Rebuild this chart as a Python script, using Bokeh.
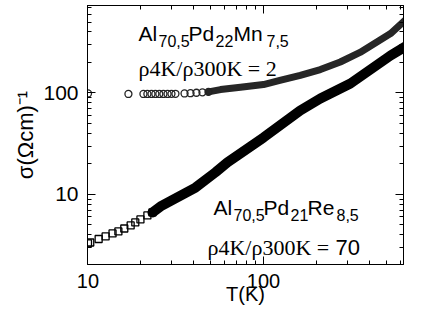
import math
from bokeh.plotting import figure
from bokeh.models import Label, LogAxis, FixedTicker
from bokeh.embed import file_html
from bokeh.resources import INLINE

# ---- data ----
# Al70,5Pd22Mn7,5 : open circles (sparse low-T part) and dense band
mn_T_open = [10, 17.0, 20.7, 21.8, 23.0, 24.2, 25.5, 26.9, 28.4, 29.9, 31.5, 35.5, 38.4, 41.5, 44.9, 48.6]
mn_sigma_open = [98.9, 97.8, 97.8, 97.8, 97.8, 97.8, 97.8, 97.8, 97.8, 98.0, 98.2, 98.9, 99.5, 100.5, 101.5, 102.5]
mn_T_band = [48.6, 56.9, 73.9, 100, 124, 162, 211, 274, 355, 530, 687, 785]
mn_sigma_band = [102.5, 108, 114, 121, 133, 149, 170, 202, 251, 385, 580, 744]

# Al70,5Pd21Re8,5 : open squares (sparse low-T part) and dense band
re_T_open = [10, 10.3, 11.5, 12.6, 13.8, 14.9, 16.1, 17.5, 18.6, 19.9, 21.8, 23.3]
re_sigma_open = [3.29, 3.36, 3.64, 3.86, 4.13, 4.32, 4.62, 4.95, 5.30, 5.67, 6.21, 6.65]
re_T_band = [23.3, 25.9, 31.5, 41.0, 53.2, 62.3, 100, 162, 211, 313, 530, 716, 785]
re_sigma_band = [6.65, 7.62, 9.14, 11.7, 16.5, 20.7, 36.4, 67.3, 88.3, 124, 234, 321, 360]

x_major = [10, 100, 1000]
x_major_labels = ["10", "100", "1000"]
y_major = [1, 10, 100, 1000]
y_major_labels = ["1", "10", "100", "1000"]

x_minor = [m * d for d in (1, 10, 100) for m in range(2, 10)]
y_minor = [m * d for d in (1, 10, 100) for m in range(2, 10)]

x_title = "T(K)"
y_title = "σ(Ωcm)⁻¹"

SANS = "Liberation Sans"
SERIF = "Liberation Serif"

p = figure(width=405, height=307, x_axis_type="log", y_axis_type="log",
           x_range=(9.935, 628), y_range=(2.04, 728),
           output_backend="svg", toolbar_location=None,
           min_border_left=87, min_border_right=2, min_border_top=5, min_border_bottom=43)
p.xgrid.grid_line_color = None
p.ygrid.grid_line_color = None
p.outline_line_color = "black"
p.background_fill_color = "white"
p.border_fill_color = "white"


def style_axis(ax, ticks, minor, labels, show_labels=True):
    ax.ticker = FixedTicker(ticks=ticks, minor_ticks=minor)
    ax.major_tick_in = 8
    ax.major_tick_out = 0
    ax.minor_tick_in = 4
    ax.minor_tick_out = 0
    ax.axis_line_color = "black"
    ax.major_tick_line_color = "black"
    ax.minor_tick_line_color = "black"
    if show_labels:
        ax.major_label_overrides = {t: s for t, s in zip(ticks, labels)}
        ax.major_label_text_font = SANS
        ax.major_label_text_font_size = "21px"
        ax.major_label_text_color = "black"
        ax.axis_label_text_font = SANS
        ax.axis_label_text_font_size = "22px"
        ax.axis_label_text_font_style = "normal"
        ax.axis_label_text_color = "black"
    else:
        ax.major_label_text_font_size = "1px"
        ax.major_label_text_color = None
        ax.major_label_standoff = 0


xa = p.xaxis[0]
style_axis(xa, x_major, x_minor, x_major_labels)
xa.major_label_text_font_size = "20px"
xa.major_label_standoff = 9
xa.axis_label = x_title
xa.axis_label_text_font_size = "20px"
xa.axis_label_standoff = -8

ya = p.yaxis[0]
style_axis(ya, y_major, y_minor, y_major_labels)
ya.major_label_standoff = 9
ya.axis_label = y_title
ya.axis_label_standoff = 2

top = LogAxis()
style_axis(top, x_major, x_minor, x_major_labels, show_labels=False)
p.add_layout(top, "above")
right = LogAxis()
style_axis(right, y_major, y_minor, y_major_labels, show_labels=False)
p.add_layout(right, "right")

# ---- data marks ----
p.line(re_T_band, re_sigma_band, line_width=10, line_color="black", line_join="round", line_cap="round")
p.scatter(re_T_open, re_sigma_open, marker="square", size=7, fill_color=None,
          line_color="black", line_width=1.3)
p.line(mn_T_band, mn_sigma_band, line_width=7, line_color="#262626", line_join="round", line_cap="round")
p.scatter(mn_T_open, mn_sigma_open, marker="circle", size=7, fill_color=None,
          line_color="#222222", line_width=1.3)


# Labels in "screen" units are measured from the frame's lower-left corner
def lab(x, y, text, size, font=SANS, angle=0.0, align="left"):
    p.add_layout(Label(x=x, y=y, x_units="screen", y_units="screen", text=text,
                       text_font=font, text_font_size=size, text_color="black",
                       text_align=align, text_baseline="alphabetic", angle=angle))


# Mn compound
for xx, yy, t, s in [(51, 231, "Al", "21px"), (71, 224, "70,5", "16px"),
                     (101, 231, "Pd", "21px"), (128, 224, "22", "16px"),
                     (146, 231, "Mn", "21px"), (179, 224, "7,5", "16px")]:
    lab(xx, yy, t, s)
lab(51, 196, "ρ4K/ρ300K = 2", "22px", SERIF)

# Re compound
for xx, yy, t, s in [(126, 57, "Al", "21px"), (146, 50, "70,5", "16px"),
                     (176, 57, "Pd", "21px"), (203, 50, "21", "16px"),
                     (220, 57, "Re", "21px"), (249, 50, "8,5", "16px")]:
    lab(xx, yy, t, s)
lab(120, 17, "ρ4K/ρ300K = ", "22px", SERIF)
lab(248, 17, "70", "22px", SANS)

open("out.html", "w").write(file_html(p, INLINE))
